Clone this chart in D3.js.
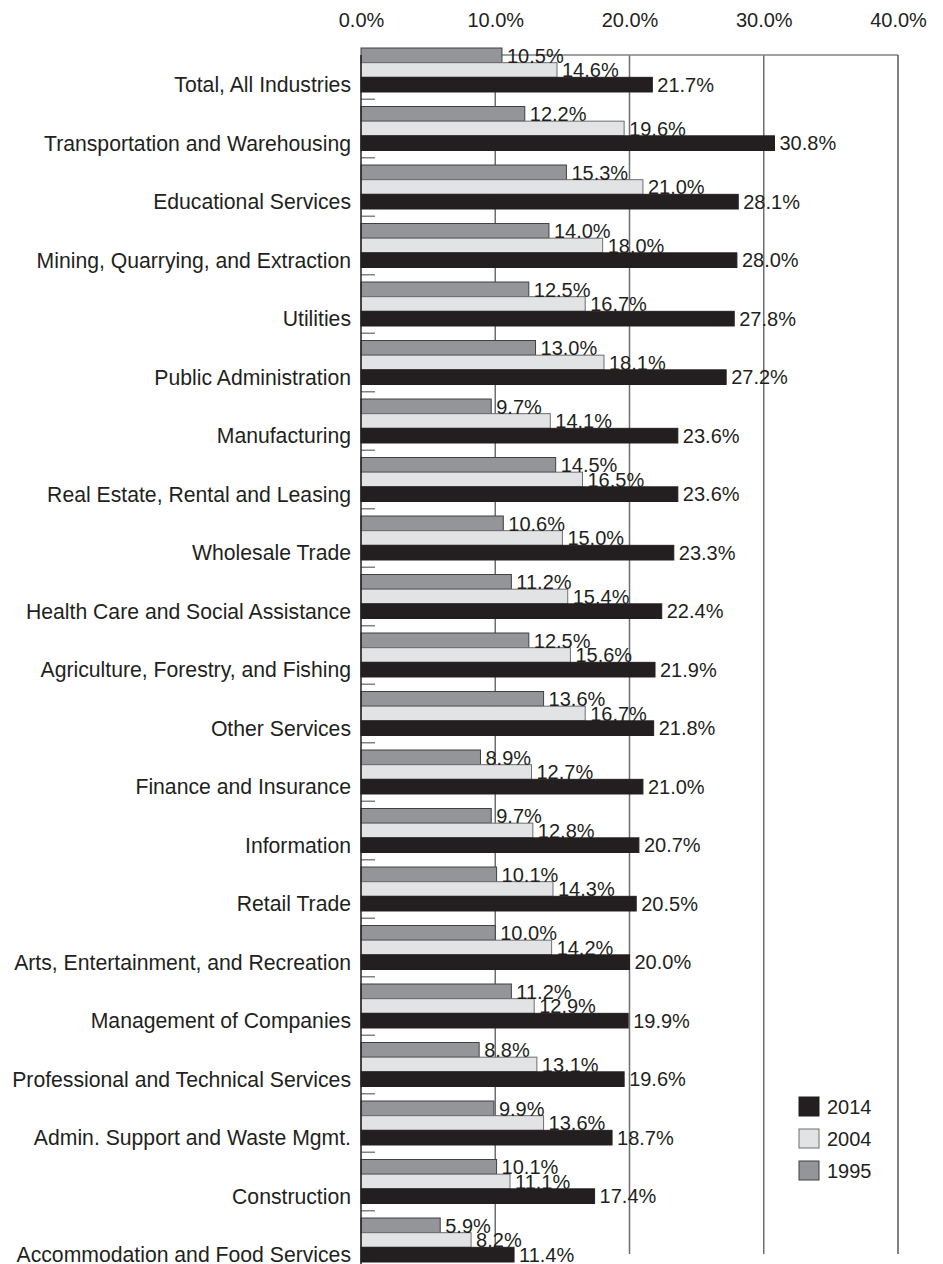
<!DOCTYPE html>
<html>
<head>
<meta charset="utf-8">
<script src="https://cdn.jsdelivr.net/npm/d3@7"></script>
<style>
  html, body { margin: 0; padding: 0; background: #fff; }
  svg { display: block; }
  text { font-family: "Liberation Sans", Arial, sans-serif; fill: #231f20; }
</style>
</head>
<body>
<svg id="chart" width="943" height="1264"></svg>
<script>
// Industries, top to bottom
const categories = [
  "Total, All Industries",
  "Transportation and Warehousing",
  "Educational Services",
  "Mining, Quarrying, and Extraction",
  "Utilities",
  "Public Administration",
  "Manufacturing",
  "Real Estate, Rental and Leasing",
  "Wholesale Trade",
  "Health Care and Social Assistance",
  "Agriculture, Forestry, and Fishing",
  "Other Services",
  "Finance and Insurance",
  "Information",
  "Retail Trade",
  "Arts, Entertainment, and Recreation",
  "Management of Companies",
  "Professional and Technical Services",
  "Admin. Support and Waste Mgmt.",
  "Construction",
  "Accommodation and Food Services"
];

// Share (%) for each year, in the same order as categories
const values1995 = [10.5, 12.2, 15.3, 14.0, 12.5, 13.0, 9.7, 14.5, 10.6, 11.2, 12.5, 13.6, 8.9, 9.7, 10.1, 10.0, 11.2, 8.8, 9.9, 10.1, 5.9];
const values2004 = [14.6, 19.6, 21.0, 18.0, 16.7, 18.1, 14.1, 16.5, 15.0, 15.4, 15.6, 16.7, 12.7, 12.8, 14.3, 14.2, 12.9, 13.1, 13.6, 11.1, 8.2];
const values2014 = [21.7, 30.8, 28.1, 28.0, 27.8, 27.2, 23.6, 23.6, 23.3, 22.4, 21.9, 21.8, 21.0, 20.7, 20.5, 20.0, 19.9, 19.6, 18.7, 17.4, 11.4];

const seriesNames = ["1995", "2004", "2014"];
const legendOrder = ["2014", "2004", "1995"];
const axisTicks = [0, 10, 20, 30, 40];

const seriesValues = { "1995": values1995, "2004": values2004, "2014": values2014 };
const fills   = { "1995": "#939598", "2004": "#e2e3e4", "2014": "#231f20" };
const strokes = { "1995": "#414042", "2004": "#6d6e71", "2014": "#231f20" };

const svg = d3.select("#chart");
const labelSize = 21.2;   // category labels
const valueSize = 20;     // bar values, axis and legend

const plotTop = 55, plotBottom = 1254;
const x = d3.scaleLinear().domain([0, 40]).range([361, 898]);

const y = d3.scaleBand()
  .domain(categories)
  .range([40.75, 1269.25])
  .paddingInner(0.248)
  .paddingOuter(0.124);

const ySub = d3.scaleBand()
  .domain(seriesNames)
  .range([0, y.bandwidth()]);

// Gridlines and frame
const grid = svg.append("g");
grid.selectAll("line.grid")
  .data([10, 20, 30])
  .join("line")
  .attr("x1", d => x(d)).attr("x2", d => x(d))
  .attr("y1", plotTop).attr("y2", plotBottom)
  .attr("stroke", "#6d6e71").attr("stroke-width", 1.5);

grid.append("line")
  .attr("x1", x(0)).attr("x2", x(40))
  .attr("y1", plotTop).attr("y2", plotTop)
  .attr("stroke", "#808285").attr("stroke-width", 1.5);
grid.append("line")
  .attr("x1", x(40)).attr("x2", x(40))
  .attr("y1", plotTop).attr("y2", plotBottom)
  .attr("stroke", "#58595b").attr("stroke-width", 1.5);

// Short separators between industry groups
grid.selectAll("line.sep")
  .data(categories.slice(1))
  .join("line")
  .attr("x1", x(0)).attr("x2", x(0) + 14)
  .attr("y1", d => y(d) - y.step() * y.paddingInner() / 2)
  .attr("y2", d => y(d) - y.step() * y.paddingInner() / 2)
  .attr("stroke", "#808285").attr("stroke-width", 1.5);

// Bars
const rows = categories.map((c, i) => ({
  category: c,
  items: seriesNames.map(s => ({ series: s, value: seriesValues[s][i] }))
}));

const groups = svg.append("g").selectAll("g")
  .data(rows)
  .join("g")
  .attr("transform", d => `translate(0,${y(d.category)})`);

groups.selectAll("rect")
  .data(d => d.items)
  .join("rect")
  .attr("x", x(0))
  .attr("y", d => ySub(d.series))
  .attr("width", d => x(d.value) - x(0))
  .attr("height", ySub.bandwidth())
  .attr("fill", d => fills[d.series])
  .attr("stroke", d => strokes[d.series])
  .attr("stroke-width", 1);

groups.selectAll("text.val")
  .data(d => d.items)
  .join("text")
  .attr("class", "val")
  .attr("x", d => x(d.value) + 5)
  .attr("y", d => ySub(d.series) + ySub.bandwidth() / 2)
  .attr("dy", "0.36em")
  .attr("font-size", valueSize)
  .text(d => d.value.toFixed(1) + "%");

// Left axis line
svg.append("line")
  .attr("x1", x(0)).attr("x2", x(0))
  .attr("y1", plotTop).attr("y2", 1264)
  .attr("stroke", "#231f20").attr("stroke-width", 1.5);

// Category labels, aligned with the 2014 bar
svg.append("g").selectAll("text")
  .data(categories)
  .join("text")
  .attr("x", 351)
  .attr("y", d => y(d) + ySub("2014") + ySub.bandwidth() / 2)
  .attr("dy", "0.36em")
  .attr("text-anchor", "end")
  .attr("font-size", labelSize)
  .text(d => d);

// Top axis labels
const axis = svg.append("g")
  .attr("transform", "translate(0,27)")
  .call(d3.axisTop(x).tickValues(axisTicks).tickSize(0).tickPadding(0)
    .tickFormat(d => d.toFixed(1) + "%"));
axis.select(".domain").remove();
axis.selectAll("text")
  .attr("font-size", valueSize)
  .attr("font-family", "Liberation Sans, Arial, sans-serif")
  .attr("fill", "#231f20")
  .attr("dy", "0em");

// Legend
const legend = svg.append("g").selectAll("g")
  .data(legendOrder)
  .join("g")
  .attr("transform", (d, i) => `translate(799,${1097 + i * 32})`);
legend.append("rect")
  .attr("width", 20).attr("height", 19)
  .attr("fill", d => fills[d])
  .attr("stroke", d => strokes[d]).attr("stroke-width", 1);
legend.append("text")
  .attr("x", 28).attr("y", 9.5).attr("dy", "0.36em")
  .attr("font-size", valueSize)
  .text(d => d);
</script>
</body>
</html>
